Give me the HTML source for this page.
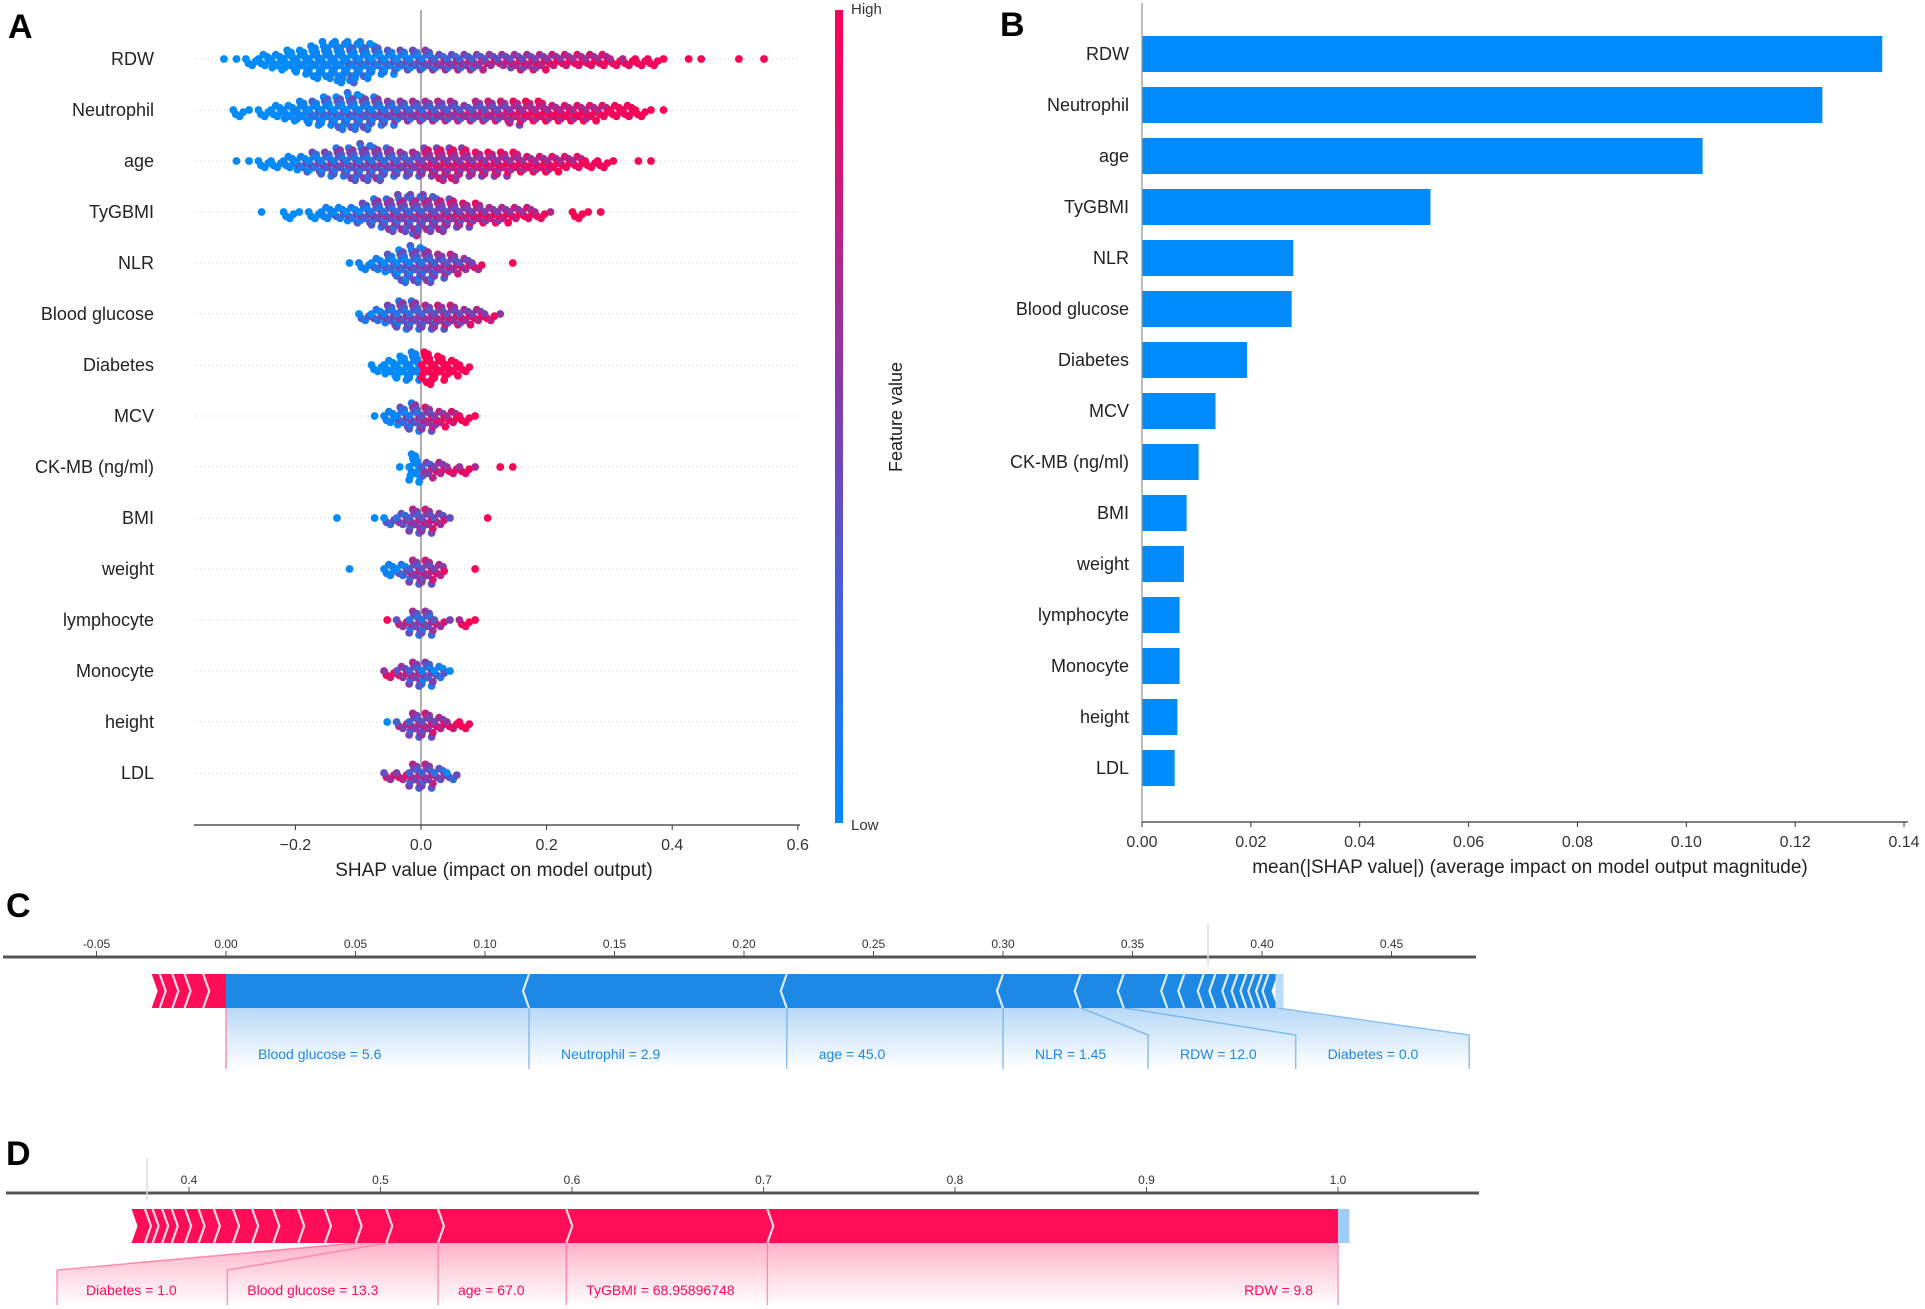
<!DOCTYPE html>
<html><head><meta charset="utf-8">
<style>
html,body{margin:0;padding:0;background:#fff;}
svg{display:block;font-family:"Liberation Sans","Noto Sans CJK SC",sans-serif;}
</style></head>
<body>
<svg id="fig" width="1925" height="1309" viewBox="0 0 1925 1309" xmlns="http://www.w3.org/2000/svg">
<defs>
<linearGradient id="cbar" x1="0" y1="1" x2="0" y2="0">
<stop offset="0" stop-color="#008bfb"/><stop offset="0.5" stop-color="#7e3fb0"/><stop offset="1" stop-color="#ff0052"/>
</linearGradient>
<linearGradient id="fadeBlue" x1="0" y1="0" x2="0" y2="1">
<stop offset="0" stop-color="#1e88e5" stop-opacity="0.32"/><stop offset="1" stop-color="#1e88e5" stop-opacity="0"/>
</linearGradient>
<linearGradient id="fadeRed" x1="0" y1="0" x2="0" y2="1">
<stop offset="0" stop-color="#ff0d57" stop-opacity="0.32"/><stop offset="1" stop-color="#ff0d57" stop-opacity="0"/>
</linearGradient>
</defs>
<g id="panelA"></g>
<g id="panelB"></g>
<g id="panelC"></g>
<g id="panelD"></g>
</svg>
<script>
// ---------- data ----------
const features = ["RDW","Neutrophil","age","TyGBMI","NLR","Blood glucose","Diabetes","MCV","CK-MB (ng/ml)","BMI","weight","lymphocyte","Monocyte","height","LDL"];
const meanAbs = [0.136,0.125,0.103,0.053,0.0278,0.0275,0.0193,0.0135,0.0104,0.0082,0.0077,0.0069,0.0069,0.0065,0.006];
const aTicks = [-0.2,0.0,0.2,0.4,0.6];
const aTickLabels = ["\u22120.2","0.0","0.2","0.4","0.6"];
const bTicks = [0,0.02,0.04,0.06,0.08,0.10,0.12,0.14];
const bTickLabels = ["0.00","0.02","0.04","0.06","0.08","0.10","0.12","0.14"];
// beeswarm bins: [center SHAP value, dot count, mean colour 0=low 1=high]
const swarmRDW = [[-0.31,1,0],[-0.29,1,0],[-0.27,2,0],[-0.25,3,0],[-0.23,4,0],[-0.21,5,0],[-0.19,6,0.02],[-0.17,8,0.03],[-0.15,9,0.04],[-0.13,10,0.05],[-0.11,10,0.06],[-0.09,9,0.08],[-0.07,7,0.1],[-0.05,6,0.12],[-0.03,5,0.2],[-0.01,5,0.25],[0.01,5,0.35],[0.03,4,0.45],[0.05,4,0.45],[0.07,4,0.5],[0.09,4,0.5],[0.11,3,0.6],[0.13,3,0.6],[0.15,4,0.65],[0.17,4,0.65],[0.19,4,0.7],[0.21,3,0.8],[0.23,3,0.8],[0.25,3,0.85],[0.27,3,0.85],[0.29,3,0.9],[0.31,2,0.9],[0.33,2,0.9],[0.35,2,0.95],[0.37,2,0.95],[0.39,1,1],[0.43,1,1],[0.45,1,1],[0.51,1,1],[0.55,1,1]];
const swarmNeut = [[-0.29,2,0],[-0.27,1,0],[-0.25,2,0],[-0.23,3,0],[-0.21,4,0.02],[-0.19,5,0.05],[-0.17,6,0.08],[-0.15,7,0.1],[-0.13,8,0.15],[-0.11,9,0.2],[-0.09,8,0.25],[-0.07,7,0.3],[-0.05,6,0.35],[-0.03,5,0.4],[-0.01,5,0.45],[0.01,5,0.45],[0.03,5,0.5],[0.05,5,0.5],[0.07,4,0.55],[0.09,5,0.55],[0.11,5,0.6],[0.13,5,0.62],[0.15,6,0.75],[0.17,5,0.8],[0.19,5,0.85],[0.21,4,0.85],[0.23,4,0.9],[0.25,4,0.9],[0.27,4,0.9],[0.29,3,0.92],[0.31,3,0.95],[0.33,3,0.95],[0.35,2,1],[0.37,1,1],[0.39,1,1]];
const swarmAge = [[-0.29,1,0],[-0.27,1,0],[-0.25,2,0],[-0.23,2,0],[-0.21,3,0.05],[-0.19,4,0.1],[-0.17,5,0.2],[-0.15,6,0.3],[-0.13,7,0.35],[-0.11,8,0.35],[-0.09,9,0.35],[-0.07,8,0.4],[-0.05,7,0.4],[-0.03,6,0.45],[-0.01,6,0.5],[0.01,7,0.65],[0.03,8,0.7],[0.05,8,0.7],[0.07,7,0.72],[0.09,6,0.72],[0.11,6,0.75],[0.13,6,0.78],[0.15,5,0.8],[0.17,4,0.85],[0.19,4,0.85],[0.21,4,0.9],[0.23,3,0.9],[0.25,3,0.9],[0.27,2,0.95],[0.29,2,0.95],[0.31,1,1],[0.35,1,1],[0.37,1,1]];
const swarmTyG = [[-0.25,1,0],[-0.21,2,0],[-0.19,1,0],[-0.17,2,0],[-0.15,3,0.05],[-0.13,3,0.1],[-0.11,4,0.15],[-0.09,5,0.25],[-0.07,7,0.35],[-0.05,8,0.4],[-0.03,9,0.45],[-0.01,10,0.45],[0.01,9,0.5],[0.03,8,0.55],[0.05,7,0.6],[0.07,6,0.65],[0.09,5,0.7],[0.11,4,0.72],[0.13,4,0.75],[0.15,3,0.8],[0.17,3,0.85],[0.19,2,0.9],[0.21,1,0.9],[0.25,2,1],[0.27,1,1],[0.29,1,1]];
const swarmNLR = [[-0.11,1,0],[-0.09,2,0.05],[-0.07,3,0.1],[-0.05,5,0.15],[-0.03,8,0.2],[-0.01,9,0.3],[0.01,8,0.4],[0.03,6,0.5],[0.05,5,0.55],[0.07,3,0.6],[0.09,2,0.7],[0.15,1,1]];
const swarmBG = [[-0.09,2,0.1],[-0.07,3,0.2],[-0.05,5,0.3],[-0.03,7,0.35],[-0.01,7,0.4],[0.01,6,0.5],[0.03,6,0.6],[0.05,5,0.6],[0.07,4,0.65],[0.09,3,0.7],[0.11,2,0.75],[0.13,1,0.8]];
const swarmDiab = [[-0.07,2,0],[-0.05,4,0],[-0.03,6,0],[-0.01,7,0.05],[0.01,8,1],[0.03,6,1],[0.05,4,1],[0.07,2,1]];
const swarmMCV = [[-0.07,1,0],[-0.05,3,0.05],[-0.03,5,0.2],[-0.01,7,0.35],[0.01,6,0.6],[0.03,4,0.75],[0.05,3,0.85],[0.07,2,0.95],[0.09,1,1]];
const swarmCK = [[-0.03,1,0],[-0.01,7,0.02],[0.01,4,0.5],[0.03,3,0.7],[0.05,2,0.8],[0.07,2,0.85],[0.09,1,0.9],[0.13,1,1],[0.15,1,1]];
const swarmBMI = [[-0.13,1,0],[-0.07,1,0],[-0.05,2,0.2],[-0.03,3,0.4],[-0.01,6,0.5],[0.01,6,0.6],[0.03,3,0.6],[0.05,1,0.6],[0.11,1,1]];
const swarmWeight = [[-0.11,1,0],[-0.05,3,0.05],[-0.03,3,0.2],[-0.01,6,0.5],[0.01,6,0.6],[0.03,3,0.7],[0.09,1,1]];
const swarmLymph = [[-0.05,1,1],[-0.03,2,0.6],[-0.01,6,0.4],[0.01,6,0.4],[0.03,2,0.6],[0.05,1,0.7],[0.07,2,0.9],[0.09,1,1]];
const swarmMono = [[-0.05,2,0.8],[-0.03,3,0.6],[-0.01,6,0.5],[0.01,6,0.3],[0.03,3,0.15],[0.05,1,0]];
const swarmHeight = [[-0.05,1,0.2],[-0.03,2,0.5],[-0.01,6,0.5],[0.01,6,0.6],[0.03,3,0.7],[0.05,2,0.8],[0.07,2,0.95]];
const swarmLDL = [[-0.05,2,0.6],[-0.03,2,0.7],[-0.01,6,0.5],[0.01,6,0.5],[0.03,3,0.4],[0.05,2,0.2]];
const swarms = [swarmRDW,swarmNeut,swarmAge,swarmTyG,swarmNLR,swarmBG,swarmDiab,swarmMCV,swarmCK,swarmBMI,swarmWeight,swarmLymph,swarmMono,swarmHeight,swarmLDL];

// force plot C
const cTicks = [-0.05,0,0.05,0.10,0.15,0.20,0.25,0.30,0.35,0.40,0.45];
const cTickLabels = ["-0.05","0.00","0.05","0.10","0.15","0.20","0.25","0.30","0.35","0.40","0.45"];
const cRedStart = -0.0287;
const cRedSeps = [-0.0256,-0.0207,-0.016,-0.0088];
const cBlueEnd = 0.406;
const cBlueSeps = [0.117,0.2165,0.300,0.330,0.3466,0.3634,0.370,0.3775,0.382,0.387,0.3906,0.394,0.397,0.400,0.4025];
const cLabels = ["Blood glucose = 5.6","Neutrophil = 2.9","age = 45.0","NLR = 1.45","RDW = 12.0","Diabetes = 0.0"];
const cFanTop = [0,0.117,0.2165,0.300,0.330,0.3466,0.406];
const cFanBottom = [0,0.117,0.2165,0.300,0.356,0.413,0.480];
// force plot D
const dTicks = [0.4,0.5,0.6,0.7,0.8,0.9,1.0];
const dTickLabels = ["0.4","0.5","0.6","0.7","0.8","0.9","1.0"];
const dRedStart = 0.370;
const dRedEnd = 1.0;
const dBlueEnd = 1.006;
const dRedSeps = [0.377,0.381,0.386,0.391,0.398,0.405,0.413,0.423,0.433,0.444,0.457,0.471,0.487,0.503,0.530,0.597,0.702];
const dLabels = ["Diabetes = 1.0","Blood glucose = 13.3","age = 67.0","TyGBMI = 68.95896748","RDW = 9.8"];
const dFanTop = [0.487,0.503,0.530,0.597,0.702,1.0];
const dFanBottom = [0.333,0.420,0.530,0.597,0.702,1.0];

// ---------- helpers ----------
const NS="http://www.w3.org/2000/svg";
function mk(parent,tag,attrs,text){const e=document.createElementNS(NS,tag);for(const k in attrs)e.setAttribute(k,attrs[k]);if(text!==undefined)e.textContent=text;parent.appendChild(e);return e;}
function col(t){t=Math.max(0,Math.min(1,t));let a,b,u;const lo=[0,139,251],mid=[126,63,176],hi=[255,0,82];if(t<0.5){a=lo;b=mid;u=t/0.5;}else{a=mid;b=hi;u=(t-0.5)/0.5;}return "rgb("+a.map((v,i)=>Math.round(v+(b[i]-v)*u)).join(",")+")";}

// ---------- Panel A ----------
const A=document.getElementById('panelA');
const ax0=421, aPx=628, aRow0=59, aStep=51, aAxisY=825;
const xA=v=>ax0+v*aPx;
const yRow=i=>aRow0+i*aStep;
let t=mk(A,'text',{x:8,y:38,'font-size':34,'font-weight':'bold','font-family':'Liberation Sans, sans-serif'},'A');

features.forEach((f,i)=>{
  const l=mk(A,'line',{x1:196,x2:800,y1:yRow(i),y2:yRow(i),stroke:'#cccccc','stroke-width':1,'stroke-dasharray':'1,3'});
  
  const tx=mk(A,'text',{x:154,y:yRow(i)+6,'text-anchor':'end','font-size':18,fill:'#222'},f);
  
});
const zl=mk(A,'line',{x1:xA(0),x2:xA(0),y1:10,y2:aAxisY,stroke:'#999','stroke-width':1.6});

swarms.forEach((bins,i)=>{
  const g=mk(A,'g',{});
  
  
  bins.forEach(b=>{
    const [v,n,c]=b;
    [-0.005,0.005].forEach((dv,s)=>{
      const cnt = n===1 ? (s===0?1:0) : n;
      for(let j=cnt-1;j>=0;j--){
        const off=((j+1)>>1)*(j%2?1:-1)*4.3 + (s?2.1:0)*(cnt>1?1:0);
        const jx=(((j*7+s*3)%5)-2)*1.2;
        const cc=(c>0.05&&c<0.95)?c+((((j+s)*5)%3)-1)*0.22:c;
        const d=mk(g,'circle',{cx:xA(n===1?v:v+dv)+jx,cy:yRow(i)+off,r:3.9,fill:col(cc)});
        
      }
    });
  });
});
const axA=mk(A,'line',{x1:194,x2:800,y1:aAxisY,y2:aAxisY,stroke:'#333','stroke-width':1.3});

aTicks.forEach((v,k)=>{
  mk(A,'line',{x1:xA(v),x2:xA(v),y1:aAxisY,y2:aAxisY+5,stroke:'#333'});
  const tt=mk(A,'text',{x:xA(v),y:aAxisY+25,'text-anchor':'middle','font-size':16,fill:'#333'},aTickLabels[k]);
  
});
t=mk(A,'text',{x:494,y:876,'text-anchor':'middle','font-size':19,fill:'#222'},'SHAP value (impact on model output)');

t=mk(A,'rect',{x:835,y:10,width:8,height:813,fill:'url(#cbar)'});

t=mk(A,'text',{x:851,y:14,'font-size':15,fill:'#333'},'High');

t=mk(A,'text',{x:851,y:830,'font-size':15,fill:'#333'},'Low');

t=mk(A,'text',{x:0,y:0,'font-size':18,fill:'#222','text-anchor':'middle',transform:'translate(902,417) rotate(-90)'},'Feature value');


// ---------- Panel B ----------
const B=document.getElementById('panelB');
const bx0=1142, bPx=5443, bRow0=54, bStep=51, bAxisY=822;
const xB=v=>bx0+v*bPx;
t=mk(B,'text',{x:1000,y:36,'font-size':34,'font-weight':'bold'},'B');

features.forEach((f,i)=>{
  const y=bRow0+i*bStep;
  const r=mk(B,'rect',{x:bx0,y:y-18,width:xB(meanAbs[i])-bx0,height:36,fill:'#008bfb'});
  
  const tx=mk(B,'text',{x:1129,y:y+6,'text-anchor':'end','font-size':18,fill:'#222'},f);
  
});
t=mk(B,'line',{x1:bx0,x2:bx0,y1:3,y2:bAxisY,stroke:'#999','stroke-width':1.3});

t=mk(B,'line',{x1:bx0,x2:1908,y1:bAxisY,y2:bAxisY,stroke:'#333','stroke-width':1.3});

bTicks.forEach((v,k)=>{
  mk(B,'line',{x1:xB(v),x2:xB(v),y1:bAxisY,y2:bAxisY+5,stroke:'#333'});
  const tt=mk(B,'text',{x:xB(v),y:bAxisY+25,'text-anchor':'middle','font-size':16,fill:'#333'},bTickLabels[k]);
  
});
t=mk(B,'text',{x:1530,y:873,'text-anchor':'middle','font-size':19,fill:'#222'},'mean(|SHAP value|) (average impact on model output magnitude)');


// ---------- force plot helper ----------
function chevron(g,x,top,bot,dir){
  const m=(top+bot)/2;
  const p=mk(g,'polyline',{points:(x)+','+top+' '+(x+dir*6)+','+m+' '+(x)+','+bot,fill:'none',stroke:'#fff','stroke-width':2.2,'stroke-opacity':0.85});
  
}

// ---------- Panel C ----------
const C=document.getElementById('panelC');
const xC=v=>226+v*2590;
const cAxisY=957, cTop=974, cBot=1008, cLabY=1059, cEnd=1069;
t=mk(C,'text',{x:6,y:917,'font-size':34,'font-weight':'bold'},'C');

t=mk(C,'line',{x1:3,x2:1476,y1:cAxisY,y2:cAxisY,stroke:'#555','stroke-width':3});

mk(C,'line',{x1:1208,x2:1208,y1:923,y2:966,stroke:'#ddd','stroke-width':1.5});
cTicks.forEach((v,k)=>{
  mk(C,'line',{x1:xC(v),x2:xC(v),y1:cAxisY-6,y2:cAxisY,stroke:'#555','stroke-width':1});
  const tt=mk(C,'text',{x:xC(v),y:948,'text-anchor':'middle','font-size':12,fill:'#333'},cTickLabels[k]);
  
});
for(let k=0;k<cFanTop.length-1;k++){
  const x1=xC(cFanTop[k]),x2=xC(cFanTop[k+1]),b1=xC(cFanBottom[k]),b2=xC(cFanBottom[k+1]);
  const p=mk(C,'polygon',{points:x1+','+cBot+' '+x2+','+cBot+' '+b2+','+(cBot+27)+' '+b2+','+cEnd+' '+b1+','+cEnd+' '+b1+','+(cBot+27),fill:'url(#fadeBlue)'});
  
  mk(C,'polyline',{points:x2+','+cBot+' '+b2+','+(cBot+27)+' '+b2+','+cEnd,fill:'none',stroke:'#8fc1ef','stroke-width':1.5});
  const tx=mk(C,'text',{x:b1+32,y:cLabY,'font-size':14,fill:'#1e88e5'},cLabels[k]);
  
}
mk(C,'line',{x1:xC(0),x2:xC(0),y1:cBot,y2:cEnd,stroke:'#ff8fae','stroke-width':1.5});
t=mk(C,'polygon',{points:xC(cRedStart)+','+cTop+' '+xC(0)+','+cTop+' '+xC(0)+','+cBot+' '+xC(cRedStart)+','+cBot+' '+(xC(cRedStart)+6)+','+(cTop+cBot)/2,fill:'#ff0d57'});

t=mk(C,'polygon',{points:xC(0)+','+cTop+' '+xC(cBlueEnd)+','+cTop+' '+(xC(cBlueEnd)-6)+','+(cTop+cBot)/2+' '+xC(cBlueEnd)+','+cBot+' '+xC(0)+','+cBot,fill:'#1e88e5'});

mk(C,'rect',{x:xC(cBlueEnd)-2,y:cTop,width:8,height:cBot-cTop,fill:'#bcdcf7'});
cRedSeps.forEach(v=>chevron(C,xC(v),cTop,cBot,1));
cBlueSeps.forEach(v=>chevron(C,xC(v),cTop,cBot,-1));

// ---------- Panel D ----------
const D=document.getElementById('panelD');
const xD=v=>189+(v-0.4)*1915;
const dAxisY=1193, dTop=1209, dBot=1243, dLabY=1295, dEnd=1305;
t=mk(D,'text',{x:6,y:1165,'font-size':34,'font-weight':'bold'},'D');

t=mk(D,'line',{x1:6,x2:1479,y1:dAxisY,y2:dAxisY,stroke:'#555','stroke-width':3});

mk(D,'line',{x1:147,x2:147,y1:1158,y2:1200,stroke:'#ddd','stroke-width':1.5});
dTicks.forEach((v,k)=>{
  mk(D,'line',{x1:xD(v),x2:xD(v),y1:dAxisY-6,y2:dAxisY,stroke:'#555','stroke-width':1});
  const tt=mk(D,'text',{x:xD(v),y:1184,'text-anchor':'middle','font-size':12,fill:'#333'},dTickLabels[k]);
  
});
mk(D,'polyline',{points:xD(dFanTop[0])+','+dBot+' '+57+','+(dBot+27)+' 57,'+dEnd,fill:'none',stroke:'#ff9db7','stroke-width':1.5});
for(let k=0;k<dFanTop.length-1;k++){
  const x1=xD(dFanTop[k]),x2=xD(dFanTop[k+1]);
  const b1=k===0?57:xD(dFanBottom[k]),b2=xD(dFanBottom[k+1]);
  const p=mk(D,'polygon',{points:x1+','+dBot+' '+x2+','+dBot+' '+b2+','+(dBot+27)+' '+b2+','+dEnd+' '+b1+','+dEnd+' '+b1+','+(dBot+27),fill:'url(#fadeRed)'});
  
  mk(D,'polyline',{points:x2+','+dBot+' '+b2+','+(dBot+27)+' '+b2+','+dEnd,fill:'none',stroke:'#ff9db7','stroke-width':1.5});
  const last=k===dFanTop.length-2;
  const tx=mk(D,'text',{x:last?b2-25:b1+(k===0?29:20),y:dLabY,'font-size':14,fill:'#ff0d57','text-anchor':last?'end':'start'},dLabels[k]);
  
}
t=mk(D,'polygon',{points:xD(dRedStart)+','+dTop+' '+xD(dRedEnd)+','+dTop+' '+xD(dRedEnd)+','+dBot+' '+xD(dRedStart)+','+dBot+' '+(xD(dRedStart)+6)+','+(dTop+dBot)/2,fill:'#ff0d57'});

t=mk(D,'rect',{x:xD(dRedEnd),y:dTop,width:xD(dBlueEnd)-xD(dRedEnd),height:dBot-dTop,fill:'#9fcdf5'});

dRedSeps.forEach(v=>chevron(D,xD(v),dTop,dBot,1));
</script>
</body></html>
